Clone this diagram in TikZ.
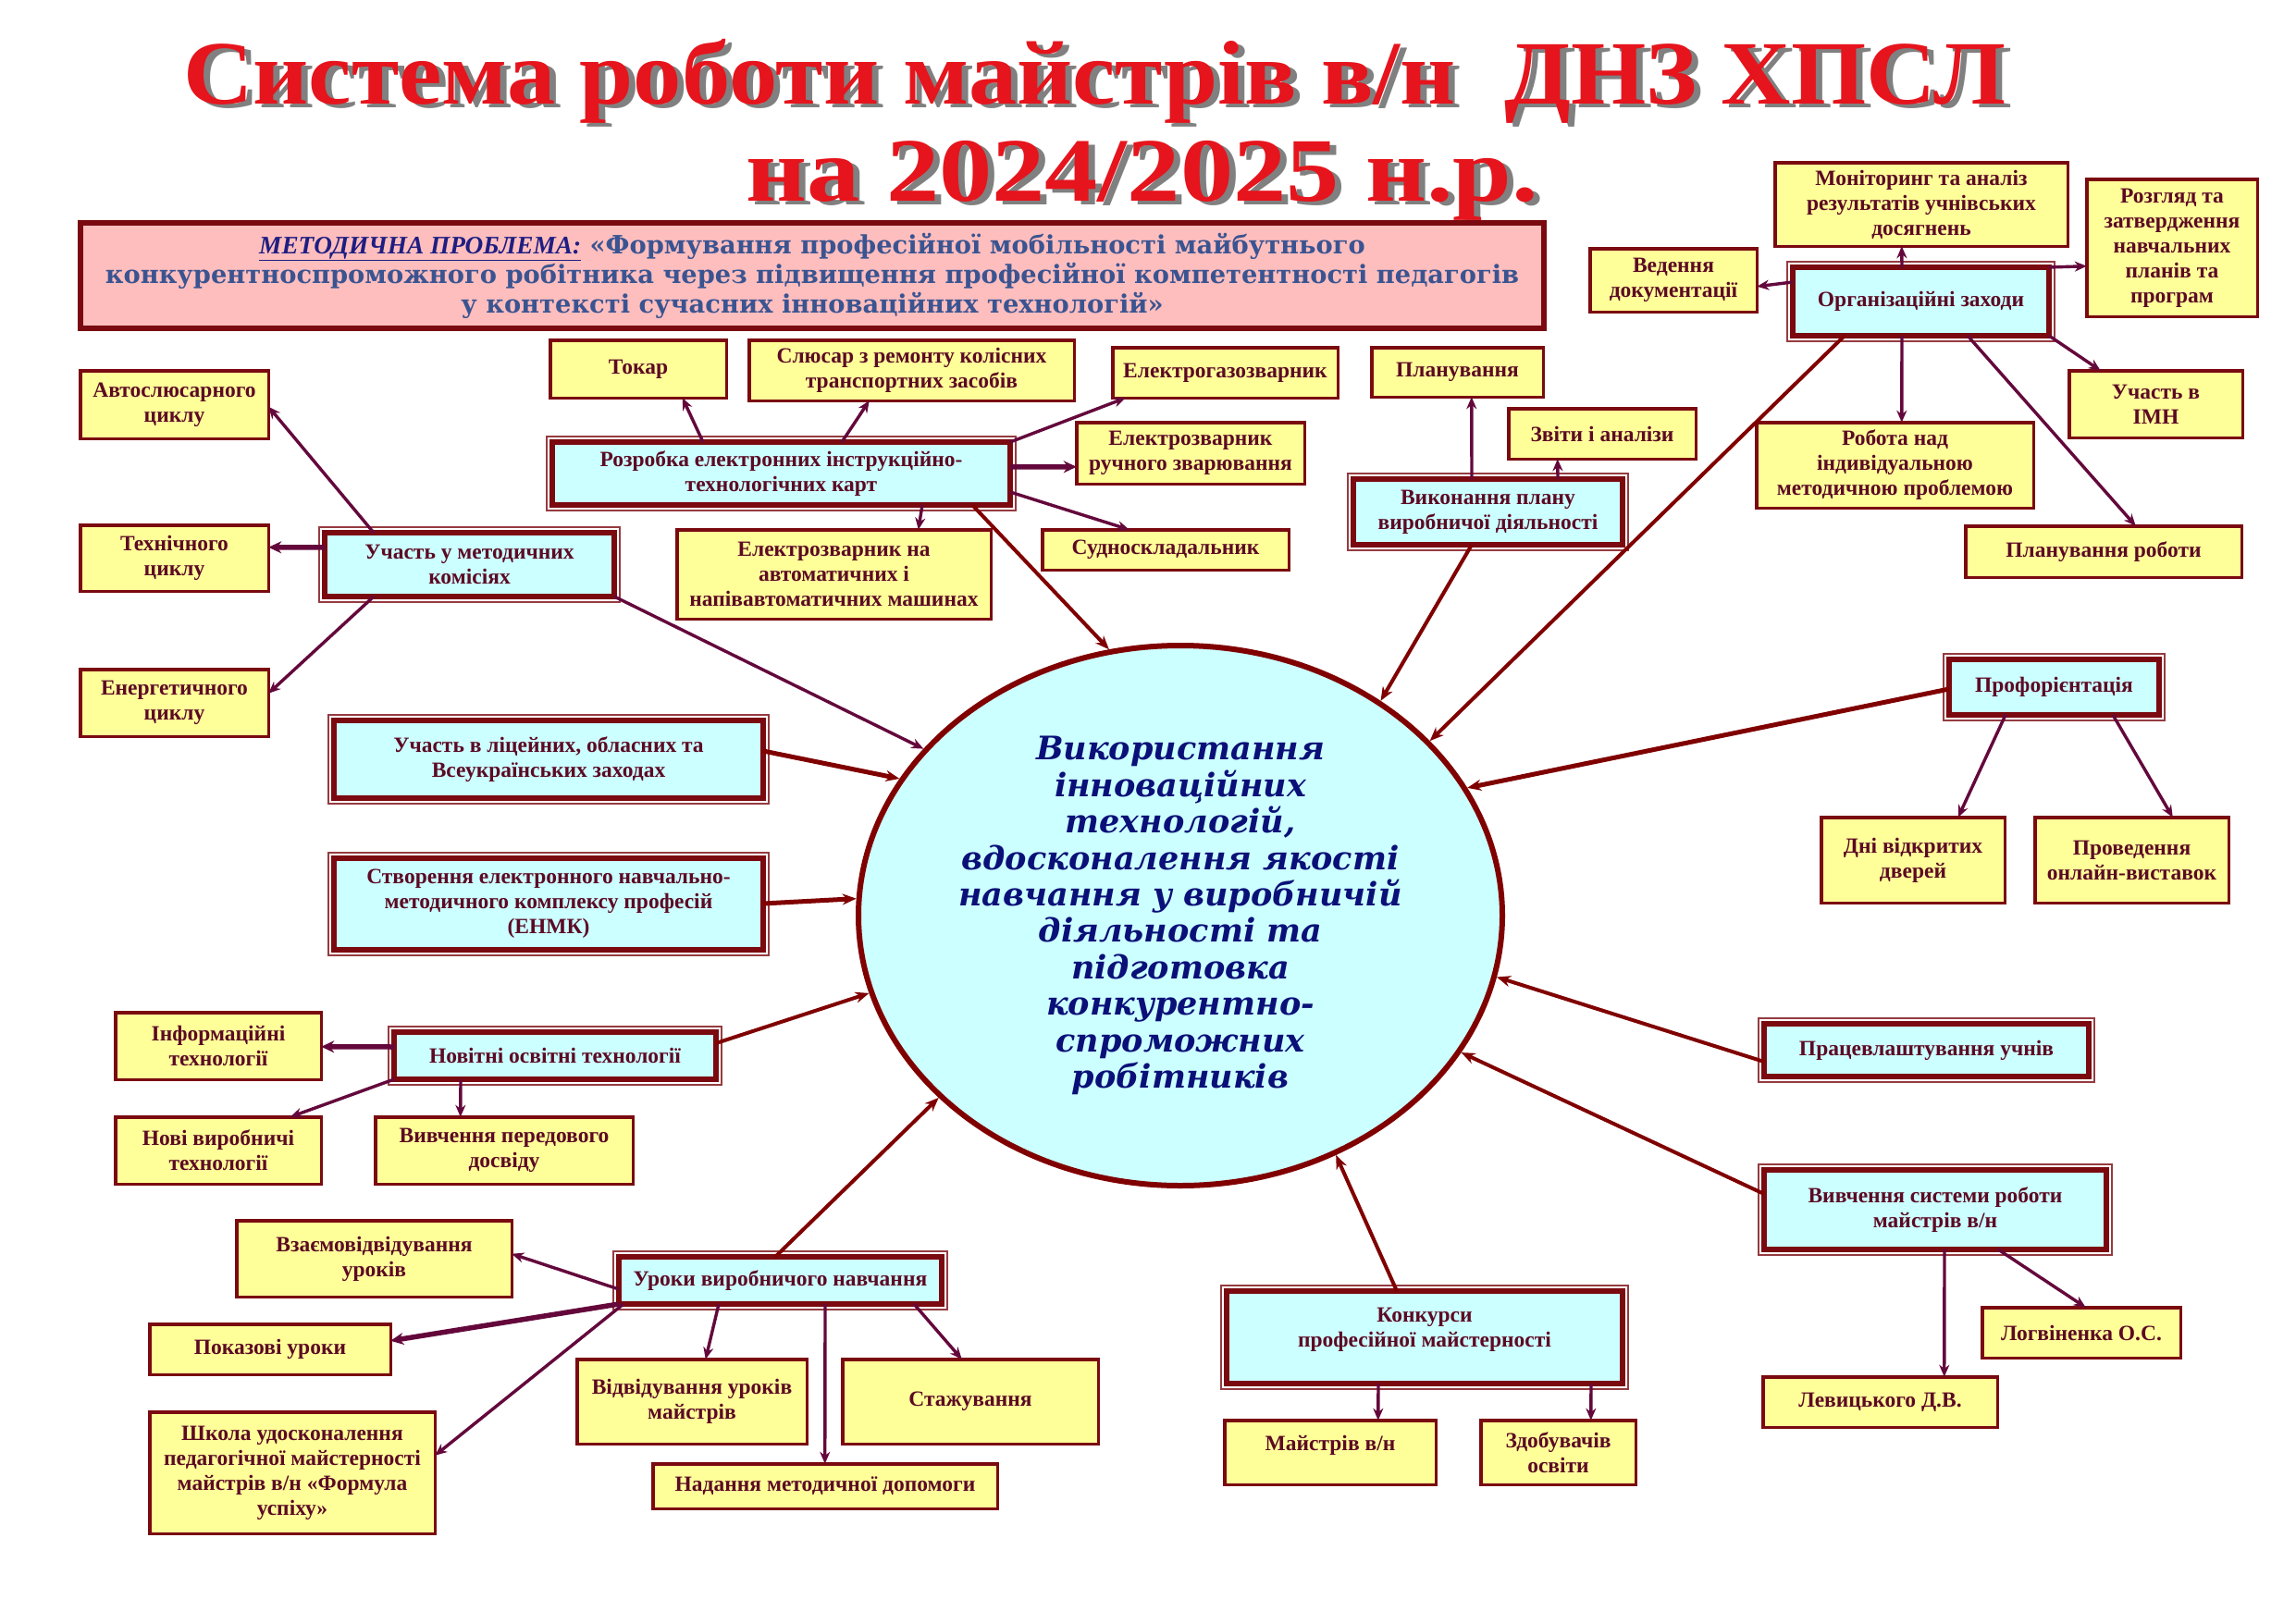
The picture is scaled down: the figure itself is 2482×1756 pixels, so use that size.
\documentclass[tikz,border=0pt]{standalone}
\usepackage{graphicx}
\usepackage{fontspec}
\setmainfont{Liberation Serif}
\newfontfamily\dvs{DejaVu Serif}
\usetikzlibrary{arrows.meta,shapes.geometric}
\definecolor{frame}{RGB}{122,10,16}
\definecolor{leafy}{RGB}{255,255,153}
\definecolor{cyanf}{RGB}{204,255,255}
\definecolor{pinkf}{RGB}{255,190,190}
\definecolor{txtm}{RGB}{92,10,36}
\definecolor{arrp}{RGB}{100,8,60}
\definecolor{arrr}{RGB}{128,0,0}
\definecolor{navytx}{RGB}{10,16,120}
\definecolor{steel}{RGB}{58,84,145}
\definecolor{navyu}{RGB}{30,30,130}
\definecolor{titred}{RGB}{230,20,28}
\definecolor{titgray}{RGB}{128,128,128}
\newcommand\ttlfont{\bfseries\fontsize{98}{100}\selectfont}
\newcommand\mkleaf[6]{%
  \pgfmathsetmacro\myW{#4-#2-3.5}\pgfmathsetmacro\myH{#5-#3-3.5}%
  \pgfmathsetmacro\myX{(#2+#4)/2}\pgfmathsetmacro\myY{(#3+#5)/2}%
  \node[leaf, minimum width=\myW pt, minimum height=\myH pt] (#1) at (\myX,\myY) {#6};}
\newcommand\mkhub[6]{%
  \pgfmathsetmacro\myW{#4-#2-12}\pgfmathsetmacro\myH{#5-#3-12}%
  \pgfmathsetmacro\myX{(#2+#4)/2}\pgfmathsetmacro\myY{(#3+#5)/2}%
  \node[hub, minimum width=\myW pt, minimum height=\myH pt] (#1) at (\myX,\myY) {#6};%
  \draw[hubframe] ([shift={(-6,-6)}]#1.north west) rectangle ([shift={(6,6)}]#1.south east);}
\begin{document}
\begin{tikzpicture}[x=1pt,y=-1pt,
  leaf/.style={draw=frame, line width=3.5pt, fill=leafy, text=txtm, align=center, inner sep=2pt, outer sep=0pt, font=\bfseries\fontsize{23.5}{27}\selectfont},
  hub/.style={draw=frame, line width=6pt, fill=cyanf, text=txtm, align=center, inner sep=2pt, outer sep=0pt, font=\bfseries\fontsize{23.5}{27}\selectfont},
  hubframe/.style={draw=frame!80, line width=1.5pt},
  arr/.style={draw=arrp, line width=3.4pt, -{Stealth[length=13pt,width=11pt]}},
  arrT/.style={draw=arrp, line width=5.5pt, -{Stealth[length=14pt,width=13pt]}},
  arrR/.style={draw=arrr, line width=4pt, -{Stealth[length=15pt,width=12pt]}}]
\useasboundingbox (0,0) rectangle (2482,1756);
\fill[white] (0,0) rectangle (2482,1756);
% title
\node[anchor=base west, inner sep=0pt, text=titgray] (t1s) at (205,116) {\resizebox{1970pt}{\height}{\ttlfont Система роботи майстрів в/н\ \ ДНЗ ХПСЛ}};
\node[anchor=base west, inner sep=0pt, text=titred] (t1) at (198,112) {\resizebox{1970pt}{\height}{\ttlfont Система роботи майстрів в/н\ \ ДНЗ ХПСЛ}};
\node[anchor=base west, inner sep=0pt, text=titgray] (t2s) at (813,221) {\resizebox{857pt}{\height}{\ttlfont на 2024/2025 н.р.}};
\node[anchor=base west, inner sep=0pt, text=titred] (t2) at (806,217) {\resizebox{857pt}{\height}{\ttlfont на 2024/2025 н.р.}};
% problem box
\node[draw=frame, line width=6pt, fill=pinkf, minimum width=1582pt, minimum height=114pt, align=center, inner sep=0pt, text=steel, font=\dvs\bfseries\fontsize{27.3}{32}\selectfont] (prob) at (878,298)
 {{\rmfamily\itshape\color{navyu}\underline{МЕТОДИЧНА ПРОБЛЕМА:}} «Формування професійної мобільності майбутнього\\конкурентноспроможного робітника через підвищення професійної компетентності педагогів\\у контексті сучасних інноваційних технологій»};
% centre
\node[ellipse, draw=arrr, line width=6pt, fill=cyanf, minimum width=696pt, minimum height=584pt, inner sep=0pt, align=center, text=navytx, font=\dvs\bfseries\itshape\fontsize{35}{39.4}\selectfont] (ell) at (1276,990)
 {Використання\\інноваційних\\технологій,\\вдосконалення якості\\навчання у виробничій\\діяльності та\\підготовка\\конкурентно-\\спроможних\\робітників};
% leaves
\mkleaf{avto}{85}{399}{292}{476}{Автослюсарного\\циклу}
\mkleaf{tekhn}{85}{566}{292}{641}{Технічного\\циклу}
\mkleaf{energ}{85}{722}{292}{798}{Енергетичного\\циклу}
\mkleaf{tokar}{593}{366}{787}{432}{Токар}
\mkleaf{slyus}{808}{366}{1163}{435}{Слюсар з ремонту колісних\\транспортних засобів}
\mkleaf{gaz}{1201}{374}{1448}{432}{Електрогазозварник}
\mkleaf{ruch}{1162}{455}{1412}{525}{Електрозварник\\ручного зварювання}
\mkleaf{avtom}{730}{571}{1073}{671}{Електрозварник на\\автоматичних і\\напівавтоматичних машинах}
\mkleaf{sudno}{1125}{571}{1395}{618}{Судноскладальник}
\mkleaf{plan}{1481}{374}{1670}{431}{Планування}
\mkleaf{zvity}{1629}{440}{1835}{498}{Звіти і аналізи}
\mkleaf{monit}{1917}{174}{2237}{268}{Моніторинг та аналіз\\результатів учнівських\\досягнень}
\mkleaf{rozgl}{2254}{192}{2442}{344}{Розгляд та\\затвердження\\навчальних\\планів та\\програм}
\mkleaf{veden}{1717}{267}{1901}{339}{Ведення\\документації}
\mkleaf{robota}{1897}{455}{2200}{551}{Робота над\\індивідуальною\\методичною проблемою}
\mkleaf{imn}{2235}{399}{2426}{475}{Участь в\\ІМН}
\mkleaf{planrob}{2123}{567}{2425}{626}{Планування роботи}
\mkleaf{dni}{1967}{882}{2169}{978}{Дні відкритих\\дверей}
\mkleaf{onlain}{2198}{882}{2411}{978}{Проведення\\онлайн-виставок}
\mkleaf{inform}{123}{1093}{349}{1169}{Інформаційні\\технології}
\mkleaf{novi}{123}{1206}{349}{1282}{Нові виробничі\\технології}
\mkleaf{peredov}{404}{1206}{686}{1282}{Вивчення передового\\досвіду}
\mkleaf{vzaem}{254}{1318}{555}{1404}{Взаємовідвідування\\уроків}
\mkleaf{pokaz}{160}{1430}{424}{1488}{Показові уроки}
\mkleaf{shkola}{160}{1525}{472}{1660}{Школа удосконалення\\педагогічної майстерності\\майстрів в/н «Формула\\успіху»}
\mkleaf{vidv}{622}{1468}{874}{1563}{Відвідування уроків\\майстрів}
\mkleaf{stazh}{909}{1468}{1189}{1563}{Стажування}
\mkleaf{nadan}{704}{1581}{1080}{1633}{Надання методичної допомоги}
\mkleaf{logv}{2141}{1412}{2359}{1470}{Логвіненка О.С.}
\mkleaf{levyc}{1904}{1487}{2161}{1545}{Левицького Д.В.}
\mkleaf{maistr}{1322}{1534}{1554}{1607}{\raisebox{20pt}{Майстрів в/н}}
\mkleaf{zdob}{1599}{1534}{1770}{1607}{Здобувачів\\освіти}
% hubs
\mkhub{metod}{345}{570}{670}{651}{Участь у методичних\\комісіях}
\mkhub{rozr}{591}{472}{1098}{552}{Розробка електронних інструкційно-\\технологічних карт}
\mkhub{vykon}{1457}{512}{1760}{595}{Виконання плану\\виробничої діяльності}
\mkhub{org}{1932}{283}{2221}{369}{Організаційні заходи}
\mkhub{prof}{2101}{707}{2340}{779}{Профорієнтація}
\mkhub{licei}{355}{773}{831}{869}{Участь в ліцейних, обласних та\\Всеукраїнських заходах}
\mkhub{enmk}{355}{922}{831}{1033}{Створення електронного навчально-\\методичного комплексу професій\\(ЕНМК)}
\mkhub{novit}{420}{1110}{780}{1173}{Новітні освітні технології}
\mkhub{uroky}{663}{1353}{1024}{1416}{Уроки виробничого навчання}
\mkhub{konk}{1320}{1390}{1760}{1502}{Конкурси\\професійної майстерності\\[-6pt]}
\mkhub{pratsev}{1901}{1101}{2264}{1170}{Працевлаштування учнів}
\mkhub{vyvch}{1901}{1259}{2283}{1357}{Вивчення системи роботи\\майстрів в/н}
% connectors
\draw[arr] ([shift={(53,0)}]metod.north west) -- ([shift={(0,39)}]avto.north east);
\draw[arrT] ([shift={(0,16)}]metod.north west) -- ([shift={(0,24)}]tekhn.north east);
\draw[arr] ([shift={(53,0)}]metod.south west) -- ([shift={(0,26)}]energ.north east);
\draw[arr] (metod.south east) -- (ell.147.8);
\draw[arr] ([shift={(163,0)}]rozr.north west) -- ([shift={(143,0)}]tokar.south west);
\draw[arr] ([shift={(313,0)}]rozr.north west) -- ([shift={(130,0)}]slyus.south west);
\draw[arr] (rozr.north east) -- ([shift={(14,0)}]gaz.south west);
\draw[arrT] ([shift={(0,27)}]rozr.north east) -- ([shift={(0,48)}]ruch.north west);
\draw[arr] ([shift={(0,54)}]rozr.north east) -- ([shift={(94,0)}]sudno.north west);
\draw[arr] ([shift={(400,0)}]rozr.south west) -- ([shift={(261,0)}]avtom.north west);
\draw[arrR] ([shift={(454,0)}]rozr.south west) -- (ell.105.5);
\draw[arr] ([shift={(128,0)}]vykon.north west) -- ([shift={(108,0)}]plan.south west);
\draw[arr] ([shift={(221,0)}]vykon.north west) -- ([shift={(53,0)}]zvity.south west);
\draw[arrR] ([shift={(128,0)}]vykon.south west) -- (ell.47.1);
\draw[arr] ([shift={(118,0)}]org.north west) -- ([shift={(137,0)}]monit.south west);
\draw[arr] (org.north east) -- ([shift={(0,94)}]rozgl.north west);
\draw[arr] ([shift={(0,16)}]org.north west) -- ([shift={(0,41)}]veden.north east);
\draw[arr] (org.south east) -- ([shift={(34,0)}]imn.north west);
\draw[arr] ([shift={(118,0)}]org.south west) -- ([shift={(157,0)}]robota.north west);
\draw[arr] ([shift={(189,0)}]org.south west) -- ([shift={(184,0)}]planrob.north west);
\draw[arrR] ([shift={(56,0)}]org.south west) -- (ell.35.9);
\draw[arrR, line width=5pt] ([shift={(0,32)}]prof.north west) -- (ell.24);
\draw[arr] ([shift={(61,0)}]prof.south west) -- ([shift={(148,0)}]dni.north west);
\draw[arr] ([shift={(177,0)}]prof.south west) -- ([shift={(149,0)}]onlain.north west);
\draw[arrR] ([shift={(0,41)}]pratsev.north west) -- (ell.-11.3);
\draw[arrR] ([shift={(0,26)}]vyvch.north west) -- (ell.-26.6);
\draw[arr] ([shift={(195,0)}]vyvch.south west) -- ([shift={(196,0)}]levyc.north west);
\draw[arr] ([shift={(253,0)}]vyvch.south west) -- ([shift={(112,0)}]logv.north west);
\draw[arrR] ([shift={(184,0)}]konk.north west) -- (ell.-57.8);
\draw[arr] ([shift={(164,0)}]konk.south west) -- ([shift={(166,0)}]maistr.north west);
\draw[arr] ([shift={(394,0)}]konk.south west) -- ([shift={(119,0)}]zdob.north west);
\draw[arrR] ([shift={(169,0)}]uroky.north west) -- (ell.217.6);
\draw[arr] ([shift={(0,35)}]uroky.north west) -- ([shift={(0,36)}]vzaem.north east);
\draw[arrT] (uroky.south west) -- ([shift={(0,18)}]pokaz.north east);
\draw[arr] ([shift={(5,0)}]uroky.south west) -- ([shift={(0,47)}]shkola.north east);
\draw[arr] ([shift={(108,0)}]uroky.south west) -- ([shift={(139,0)}]vidv.north west);
\draw[arr] ([shift={(223,0)}]uroky.south west) -- ([shift={(186,0)}]nadan.north west);
\draw[arr] ([shift={(319,0)}]uroky.south west) -- ([shift={(129,0)}]stazh.north west);
\draw[arrR] ([shift={(0,12)}]novit.north east) -- (ell.194.3);
\draw[arrT] ([shift={(0,16)}]novit.north west) -- ([shift={(0,37)}]inform.north east);
\draw[arr] (novit.south west) -- ([shift={(189,0)}]novi.north west);
\draw[arr] ([shift={(72,0)}]novit.south west) -- ([shift={(92,0)}]peredov.north west);
\draw[arrR, line width=5pt] ([shift={(0,33)}]licei.north east) -- (ell.154.8);
\draw[arrR, line width=5pt] ([shift={(0,49)}]enmk.north east) -- (ell.177.9);
\end{tikzpicture}
\end{document}
